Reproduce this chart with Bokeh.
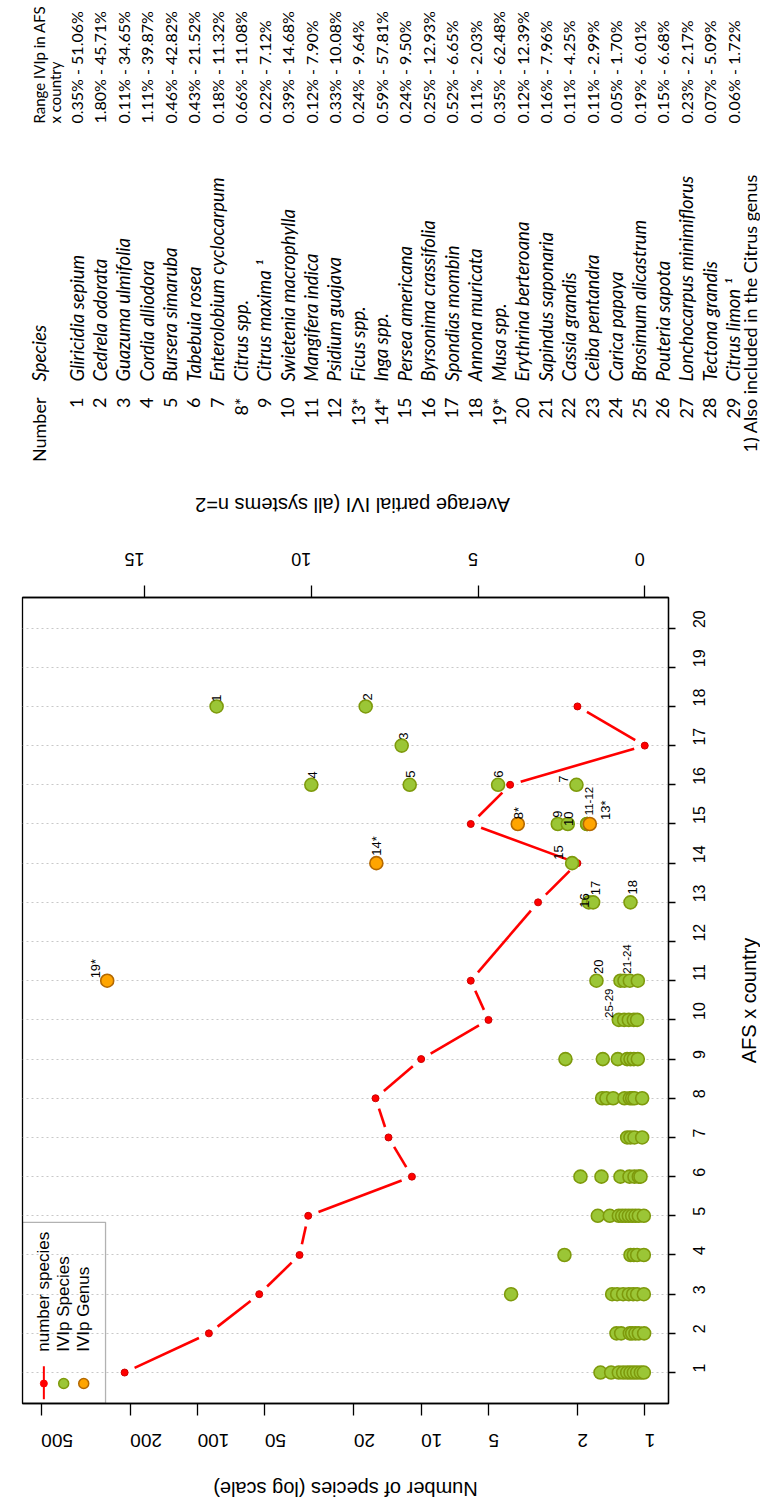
import math
from bokeh.plotting import figure
from bokeh.models import (Range1d, LinearAxis, LinearScale, FixedTicker,
                          PrintfTickFormatter, BoxAnnotation)
from bokeh.layouts import column, row
from bokeh.core.properties import value
from bokeh.embed import file_html
from bokeh.resources import INLINE

# ---------------- data ----------------
afs = [1, 2, 3, 4, 5, 6, 7, 8, 9, 10, 11, 13, 14, 15, 16, 17, 18]
n_species = [212, 89, 53, 35, 32, 11, 14, 16, 10, 5, 6, 3, 2, 6, 4, 1, 2]

species_afs = [1, 1, 1, 1, 1, 1, 1, 1, 1, 1,
               2, 2, 2, 2, 2, 2, 2,
               3, 3, 3, 3, 3, 3, 3, 3,
               4, 4, 4, 4, 4,
               5, 5, 5, 5, 5, 5, 5, 5, 5, 5,
               6, 6, 6, 6, 6, 6, 6,
               7, 7, 7, 7,
               8, 8, 8, 8, 8, 8, 8, 8,
               9, 9, 9, 9, 9, 9, 9,
               10, 10, 10, 10, 10,
               11, 11, 11, 11, 11,
               13, 13, 13,
               14,
               15, 15, 15, 15,
               16, 16, 16, 16,
               17,
               18, 18]
species_ivi = [1.33, 1.01, 0.78, 0.65, 0.53, 0.43, 0.33, 0.23, 0.12, 0.03,
               0.85, 0.71, 0.45, 0.38, 0.28, 0.18, 0.02,
               4.01, 0.98, 0.83, 0.65, 0.48, 0.35, 0.23, 0.03,
               2.41, 0.43, 0.33, 0.23, 0.03,
               1.41, 1.05, 0.78, 0.68, 0.58, 0.48, 0.38, 0.28, 0.18, 0.03,
               1.93, 1.30, 0.73, 0.46, 0.31, 0.18, 0.13,
               0.53, 0.43, 0.31, 0.08,
               1.28, 1.15, 0.95, 0.61, 0.45, 0.38, 0.31, 0.08,
               2.38, 1.26, 0.81, 0.53, 0.43, 0.33, 0.21,
               0.78, 0.62, 0.48, 0.33, 0.23,
               1.45, 0.73, 0.61, 0.45, 0.21,
               1.68, 1.55, 0.43,
               2.18,
               2.61, 2.31, 1.73, 1.73,
               10.0, 7.05, 4.40, 2.05,
               7.29,
               12.84, 8.37]
assert len(species_afs) == len(species_ivi)

genus_afs = [15, 15, 14, 11]
genus_ivi = [3.81, 1.65, 8.05, 16.12]

label_text = ["1", "2", "3", "4", "5", "6", "7", "8*", "9", "10", "13*", "14*",
              "15", "16", "17", "18", "19*", "20"]
label_ivi = [12.84, 8.32, 7.23, 9.97, 7.03, 4.40, 2.43, 3.79, 2.61, 2.28, 1.18, 8.05,
             2.58, 1.81, 1.48, 0.38, 16.47, 1.38]
label_afs = [18.12, 18.15, 17.15, 16.16, 16.18, 16.18, 16.05, 15.12, 15.16, 14.95, 15.10, 14.19,
             14.09, 12.86, 13.18, 13.20, 11.06, 11.17]

group_text = ["11-12", "21-24", "25-29"]
group_ivi = [1.68, 0.53, 1.08]
group_afs = [15.22, 11.18, 10.05]

afs_ticks = list(range(1, 21))
species_ticks = [1, 2, 5, 10, 20, 50, 100, 200, 500]
ivi_ticks = [0, 5, 10, 15]

legend_labels = ["number species", "IVIp Species", "IVIp Genus"]

title_species = "Number of species (log scale)"
title_ivi = "Average partial IVI (all systems n=2"
title_afs = "AFS x country"

table_num = ["1", "2", "3", "4", "5", "6", "7", "8*", "9", "10", "11", "12", "13*", "14*",
             "15", "16", "17", "18", "19*", "20", "21", "22", "23", "24", "25", "26", "27",
             "28", "29"]
table_species = ["Gliricidia sepium", "Cedrela odorata", "Guazuma ulmifolia",
                 "Cordia alliodora", "Bursera simaruba", "Tabebuia rosea",
                 "Enterolobium cyclocarpum", "Citrus spp.", "Citrus maxima \u00b9",
                 "Swietenia macrophylla", "Mangifera indica", "Psidium guajava",
                 "Ficus spp.", "Inga spp.", "Persea americana", "Byrsonima crassifolia",
                 "Spondias mombin", "Annona muricata", "Musa spp.", "Erythrina berteroana",
                 "Sapindus saponaria", "Cassia grandis", "Ceiba pentandra", "Carica papaya",
                 "Brosimum alicastrum", "Pouteria sapota", "Lonchocarpus minimiflorus",
                 "Tectona grandis", "Citrus limon \u00b9"]
table_range = ["0.35% - 51.06%", "1.80% - 45.71%", "0.11% - 34.65%", "1.11% - 39.87%",
               "0.46% - 42.82%", "0.43% - 21.52%", "0.18% - 11.32%", "0.66% - 11.08%",
               "0.22% - 7.12%", "0.39% - 14.68%", "0.12% - 7.90%", "0.33% - 10.08%",
               "0.24% - 9.64%", "0.59% - 57.81%", "0.24% - 9.50%", "0.25% - 12.93%",
               "0.52% - 6.65%", "0.11% - 2.03%", "0.35% - 62.48%", "0.12% - 12.39%",
               "0.16% - 7.96%", "0.11% - 4.25%", "0.11% - 2.99%", "0.05% - 1.70%",
               "0.19% - 6.01%", "0.15% - 6.68%", "0.23% - 2.17%", "0.07% - 5.09%",
               "0.06% - 1.72%"]
table_rows = list(range(1, 30))
footnote = "1) Also included in the Citrus genus"

# ---------------- styling constants ----------------
FONT = "Liberation Sans"
TFONT = "Lato"
GREEN_FILL, GREEN_LINE = "#9BC636", "#7E9A0C"
ORANGE_FILL, ORANGE_LINE = "#FFA500", "#B36800"
RED = "#FF0000"
UP = math.pi / 2
W = 760

# page geometry (no page margin)
T_H = 520                      # table strip (also holds top axis title)
B_H = 25                       # bottom strip (bottom axis title)
R_W = 30                       # right strip (right axis title)
P_W, P_H = W - R_W, 1501 - T_H - B_H
F_L, F_R, F_T, F_B = 22, 668, 597, 1403     # frame edges in page px
FW, FH = F_R - F_L, F_B - F_T


def bare(fig):
    fig.outline_line_color = None
    fig.grid.visible = False
    fig.background_fill_color = "white"
    fig.border_fill_color = "white"
    try:
        fig.frame_align = False
    except Exception:
        pass
    return fig


# ---------------- table strip ----------------
ROW_STEP = 23.45
r_start = 1 - 76 / ROW_STEP
t = bare(figure(width=W, height=T_H, x_range=Range1d(r_start, r_start + W / ROW_STEP),
                y_range=Range1d(T_H, 0), toolbar_location=None, output_backend="svg",
                min_border=0, x_axis_location=None, y_axis_location=None))
t.extra_x_ranges = {"pxx": Range1d(0, W)}
t.extra_x_scales = {"pxx": LinearScale()}

HDR_ROW, SUB_ROW, FOOT_ROW = -0.578, 0.062, 29.72
NUM_END, SPEC_START, RANGE_START, FOOT_START = 397, 381, 123, 452
tk = dict(angle=UP, text_baseline="middle", text_color="black", text_font=value(TFONT))
t.text(x=table_rows, y=[NUM_END] * 29, text=table_num, text_align="right",
       text_font_size="18px", **tk)
t.text(x=table_rows, y=[SPEC_START] * 29, text=table_species, text_align="left",
       text_font_size="18.5px", text_font_style="italic", **tk)
t.text(x=table_rows, y=[RANGE_START] * 29, text=table_range, text_align="left",
       text_font_size="16px", **tk)
t.text(x=[HDR_ROW], y=[NUM_END], text=["Number"], text_align="right",
       text_font_size="18px", **tk)
t.text(x=[HDR_ROW], y=[SPEC_START], text=["Species"], text_align="left",
       text_font_size="18.5px", text_font_style="italic", **tk)
t.text(x=[HDR_ROW, SUB_ROW], y=[RANGE_START, RANGE_START],
       text=["Range IVIp in AFS", "x country"], text_align="left",
       text_font_size="15px", **tk)
t.text(x=[FOOT_ROW], y=[FOOT_START], text=[footnote], text_align="left",
       text_font_size="18px", **tk)

ttl = dict(text_font=value(FONT), text_font_size="20px", text_color="black",
           text_align="center", text_baseline="middle")
t.text(x=[352], y=[504], text=[title_ivi], x_range_name="pxx", angle=math.pi, **ttl)

# ---------------- main plot ----------------
xs0, xs1 = 606.8, 0.783       # number of species (log, reversed)
y0, y1 = 0.21, 20.78          # AFS x country
iv0, iv1 = 18.66, -0.71       # average partial IVI (reversed)

p = figure(width=P_W, height=P_H, x_axis_type="log", x_range=Range1d(xs0, xs1),
           y_range=Range1d(y0, y1), x_axis_location="below", y_axis_location="right",
           toolbar_location=None, output_backend="svg",
           min_border_left=F_L, min_border_right=P_W - F_R,
           min_border_top=F_T - T_H, min_border_bottom=(T_H + P_H) - F_B)
try:
    p.frame_align = False
except Exception:
    pass
bottom = p.below[0]
right = p.right[0]
p.extra_x_ranges = {"ivi": Range1d(iv0, iv1)}
p.extra_x_scales = {"ivi": LinearScale()}
p.outline_line_color = "black"
p.outline_line_width = 1.3
p.background_fill_color = "white"
p.border_fill_color = "white"

top = LinearAxis(x_range_name="ivi", ticker=FixedTicker(ticks=ivi_ticks, minor_ticks=[]))
p.add_layout(top, "above")
bottom.ticker = FixedTicker(ticks=species_ticks, minor_ticks=[])
bottom.formatter = PrintfTickFormatter(format="%d")
right.ticker = FixedTicker(ticks=afs_ticks, minor_ticks=[])

for ax in (top, bottom, right):
    ax.axis_line_color = "black"
    ax.axis_line_width = 1.3
    ax.major_tick_line_color = "black"
    ax.major_tick_line_width = 1.3
    ax.major_tick_in = 0
    ax.major_tick_out = 12
    ax.minor_tick_line_color = None
    ax.major_label_text_font = FONT
    ax.major_label_text_color = "black"

top.major_label_text_font_size = "18px"
top.major_label_orientation = math.pi
top.major_label_standoff = 26

bottom.major_label_text_font_size = "19px"
bottom.major_label_orientation = math.pi
bottom.major_label_standoff = 25

right.major_label_text_font_size = "16px"
right.major_label_orientation = UP
right.major_tick_out = 7
right.major_label_standoff = 24

p.xgrid.grid_line_color = None
p.ygrid.grid_line_color = "#C8C8C8"
p.ygrid.grid_line_dash = "2 3"
p.ygrid.grid_line_width = 1.2

# red line with gaps (R type="b")
lx0, lx1 = math.log10(xs0), math.log10(xs1)


def to_px(v, a):
    return FW * (lx0 - math.log10(v)) / (lx0 - lx1), FH * (a - y0) / (y1 - y0)


def to_data(sx, sy):
    return 10 ** (lx0 - sx * (lx0 - lx1) / FW), y0 + sy * (y1 - y0) / FH


GAP = 11.0
sx0, sy0, sx1, sy1 = [], [], [], []
for i in range(len(afs) - 1):
    ax_, ay_ = to_px(n_species[i], afs[i])
    bx_, by_ = to_px(n_species[i + 1], afs[i + 1])
    d = math.hypot(bx_ - ax_, by_ - ay_)
    if d <= 2 * GAP:
        continue
    ux, uy = (bx_ - ax_) / d, (by_ - ay_) / d
    a0 = to_data(ax_ + GAP * ux, ay_ + GAP * uy)
    b0 = to_data(bx_ - GAP * ux, by_ - GAP * uy)
    sx0.append(a0[0]); sy0.append(a0[1]); sx1.append(b0[0]); sy1.append(b0[1])
p.segment(x0=sx0, y0=sy0, x1=sx1, y1=sy1, line_color=RED, line_width=2.6)
p.scatter(x=n_species, y=afs, size=7, fill_color=RED, line_color="#D00000", line_width=1)

p.scatter(x=species_ivi, y=species_afs, x_range_name="ivi", size=13,
          fill_color=GREEN_FILL, line_color=GREEN_LINE, line_width=1.6)
p.scatter(x=genus_ivi, y=genus_afs, x_range_name="ivi", size=13,
          fill_color=ORANGE_FILL, line_color=ORANGE_LINE, line_width=1.6)

p.text(x=label_ivi, y=label_afs, text=label_text, x_range_name="ivi", angle=UP,
       text_align="left", text_baseline="middle", text_font=value(FONT),
       text_font_size="13px", text_color="black")
p.text(x=group_ivi, y=group_afs, text=group_text, x_range_name="ivi", angle=UP,
       text_align="left", text_baseline="middle", text_font=value(FONT),
       text_font_size="11.5px", text_color="black")

# legend (drawn rotated, like the reference)
leg_right, leg_top = 258, 4.835
p.add_layout(BoxAnnotation(left=xs0, right=leg_right, bottom=y0, top=leg_top,
                           fill_alpha=0, line_color="black", line_width=1.3))
leg_x = [487, 397, 323]
leg_sym_y, leg_txt_y = 0.72, 1.53
p.segment(x0=[leg_x[0]], y0=[0.32], x1=[leg_x[0]], y1=[1.16], line_color=RED, line_width=2)
p.scatter(x=[leg_x[0]], y=[leg_sym_y], size=7, fill_color=RED, line_color=RED)
p.scatter(x=[leg_x[1]], y=[leg_sym_y], size=10, fill_color=GREEN_FILL,
          line_color=GREEN_LINE, line_width=1.5)
p.scatter(x=[leg_x[2]], y=[leg_sym_y], size=10, fill_color=ORANGE_FILL,
          line_color=ORANGE_LINE, line_width=1.5)
p.text(x=leg_x, y=[leg_txt_y] * 3, text=legend_labels, angle=UP, text_align="left",
       text_baseline="middle", text_font=value(FONT), text_font_size="17px",
       text_color="black")

# ---------------- right strip: "AFS x country" ----------------
r = bare(figure(width=R_W, height=P_H, x_range=Range1d(P_W, W),
                y_range=Range1d(T_H + P_H, T_H), toolbar_location=None,
                output_backend="svg", min_border=0,
                x_axis_location=None, y_axis_location=None))
r.text(x=[748], y=[1000], text=[title_afs], angle=UP, **ttl)

# ---------------- bottom strip: species axis title ----------------
b = bare(figure(width=W, height=B_H, x_range=Range1d(0, W),
                y_range=Range1d(1501, 1501 - B_H), toolbar_location=None,
                output_backend="svg", min_border=0,
                x_axis_location=None, y_axis_location=None))
b.text(x=[345], y=[1488], text=[title_species], angle=math.pi, **ttl)

layout = column(t, row(p, r), b)
open("out.html", "w").write(file_html(layout, INLINE))
